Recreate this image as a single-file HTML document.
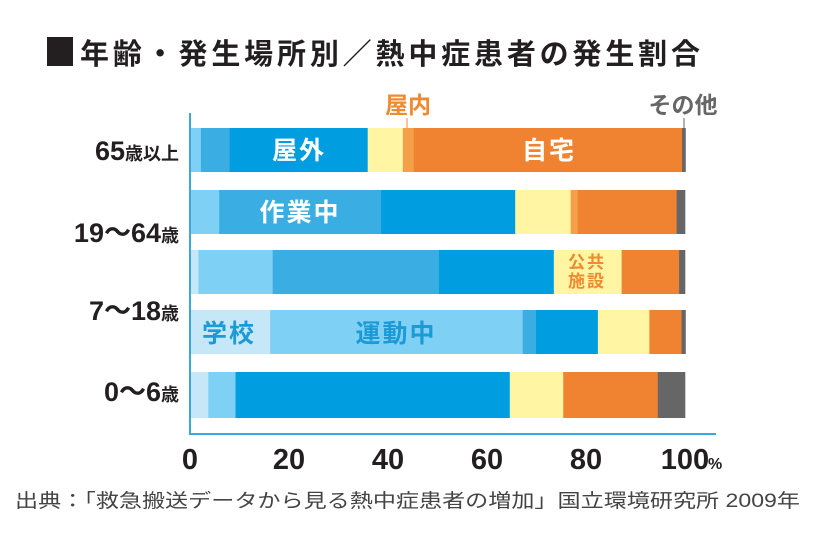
<!DOCTYPE html>
<html><head><meta charset="utf-8">
<style>
html,body{margin:0;padding:0;background:#fff;}
body{width:840px;height:554px;overflow:hidden;font-family:"Liberation Sans","Noto Sans CJK JP",sans-serif;}
</style></head>
<body>
<svg id="chart" width="840" height="554" xmlns="http://www.w3.org/2000/svg" font-family="'Liberation Sans','Noto Sans CJK JP',sans-serif">
  <rect x="47" y="37" width="26" height="29" fill="#231f20"/>
  <text x="80" y="64" font-size="29" font-weight="bold" fill="#231f20" textLength="620" lengthAdjust="spacing">年齢・発生場所別／熱中症患者の発生割合</text>
  <g id="bars"></g>
  <g id="labels"></g>
  <line x1="190" y1="113" x2="190" y2="434" stroke="#3aa8de" stroke-width="2"/>
  <line x1="189" y1="434" x2="716" y2="434" stroke="#3aa8de" stroke-width="2"/>
  <text x="408" y="113" font-size="23" font-weight="bold" fill="#f08a30" text-anchor="middle">屋内</text>
  <line x1="407" y1="118" x2="407" y2="128" stroke="#f08a30" stroke-width="1"/>
  <text x="683" y="113" font-size="23" font-weight="bold" fill="#666" text-anchor="middle">その他</text>
  <line x1="684" y1="118" x2="684" y2="128" stroke="#666" stroke-width="1"/>
  <text x="15" y="507" font-size="19" fill="#444" textLength="785" lengthAdjust="spacingAndGlyphs">出典：「救急搬送データから見る熱中症患者の増加」国立環境研究所 2009年</text>
</svg>
<script>
const ageLabels = ["65歳以上", "19〜64歳", "7〜18歳", "", "0〜6歳"];
const categories = ["学校", "運動中", "作業中", "屋外その他", "公共施設", "屋内その他", "自宅", "その他"];
const school   = [0,   0,    1.7,  16.2, 3.7];
const sports   = [2.2, 5.9,  15.0, 51.0, 5.5];
const work     = [5.8, 32.7, 33.6, 2.7,  0];
const outdoor  = [27.9,27.1, 23.2, 12.5, 55.4];
const publicF  = [7.1, 11.2, 13.7, 10.4, 10.8];
const indoor   = [2.2, 1.4,  0,    0,    0];
const home     = [54.2,20.0, 11.6, 6.5,  19.1];
const other    = [0.7, 1.7,  1.2,  0.8,  5.5];
const xTicks = [0, 20, 40, 60, 80, 100];

const series = [school, sports, work, outdoor, publicF, indoor, home, other];
const colors = ["#c6e7f8", "#7fd0f5", "#3aaee2", "#009de0", "#fff5a3", "#f4a04a", "#f08331", "#666666"];
const X0 = 190, X1 = 685;
const xs = v => X0 + (X1 - X0) * v / 100;
const rowTop = [128, 190, 250, 310, 372];
const rowH = [44, 44, 44, 44, 46];
const NS = "http://www.w3.org/2000/svg";
const bars = document.getElementById("bars");
const labels = document.getElementById("labels");

for (let r = 0; r < rowTop.length; r++) {
  let cum = 0;
  for (let s = 0; s < series.length; s++) {
    const v = series[s][r];
    if (v <= 0) continue;
    const rect = document.createElementNS(NS, "rect");
    rect.setAttribute("x", xs(cum));
    rect.setAttribute("y", rowTop[r]);
    rect.setAttribute("width", xs(cum + v) - xs(cum) + 0.3);
    rect.setAttribute("height", rowH[r]);
    rect.setAttribute("fill", colors[s]);
    
    
    bars.appendChild(rect);
    cum += v;
  }
}

function txt(x, y, str, size, fill, anchor, name) {
  const t = document.createElementNS(NS, "text");
  t.setAttribute("x", x); t.setAttribute("y", y);
  t.setAttribute("font-size", size); t.setAttribute("font-weight", "bold");
  t.setAttribute("fill", fill); t.setAttribute("text-anchor", anchor);
  t.setAttribute("letter-spacing", "2");
  t.textContent = str;
  
  
  labels.appendChild(t);
  return t;
}
const ageY = [160, 242, 320, 0, 401];
for (let r = 0; r < ageLabels.length; r++) {
  if (!ageLabels[r]) continue;
  const t = document.createElementNS(NS, "text");
  t.setAttribute("x", 179); t.setAttribute("y", ageY[r]);
  t.setAttribute("text-anchor", "end");
  t.setAttribute("font-size", 27); t.setAttribute("font-weight", "bold"); t.setAttribute("fill", "#231f20");
  const main = ageLabels[r].replace("歳以上", "").replace("歳", "");
  const suf = ageLabels[r].slice(main.length);
  const a = document.createElementNS(NS, "tspan"); a.textContent = main;
  const b = document.createElementNS(NS, "tspan"); b.textContent = suf; b.setAttribute("font-size", 18);
  t.appendChild(a); t.appendChild(b);
  
  
  labels.appendChild(t);
}
for (const v of xTicks) {
  const t = document.createElementNS(NS, "text");
  t.setAttribute("x", xs(v)); t.setAttribute("y", 469);
  t.setAttribute("text-anchor", "middle");
  t.setAttribute("font-size", 29); t.setAttribute("font-weight", "bold"); t.setAttribute("fill", "#231f20");
  t.textContent = v;
  
  
  labels.appendChild(t);
}
txt(xs(100) + 23, 469, "%", 16, "#231f20", "start", "x-unit-label");
txt(299, 159, "屋外", 25, "#fff", "middle", "label-outdoor");
txt(549, 159, "自宅", 25, "#fff", "middle", "label-home");
txt(300, 221, "作業中", 25, "#fff", "middle", "label-work");
txt(587, 268, "公共", 17, "#f08a30", "middle", "label-public-1");
txt(587, 287, "施設", 17, "#f08a30", "middle", "label-public-2");
txt(229, 342, "学校", 25, "#1c9ad6", "middle", "label-school");
txt(396, 342, "運動中", 25, "#1c9ad6", "middle", "label-sports");
</script>
</body></html>
